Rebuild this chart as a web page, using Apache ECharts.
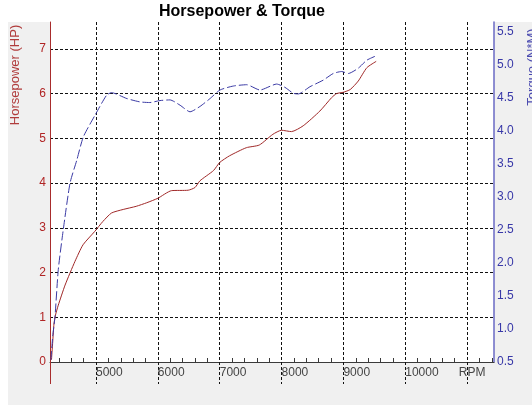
<!DOCTYPE html>
<html>
<head>
<meta charset="utf-8">
<title>Horsepower & Torque</title>
<script src="https://cdn.jsdelivr.net/npm/echarts@6/dist/echarts.min.js"></script>
<style>
  html, body { margin: 0; padding: 0; background: #fff; }
  #myChart { width: 532px; height: 405px; }
</style>
</head>
<body>
<div id="myChart"></div>
<script>
// x range of the plot (rpm)
const rpmMin = 4256
const rpmMax = 11435

// x axis ticks / labels
const rpmMajor = [5000, 6000, 7000, 8000, 9000, 10000, 11000]
const rpmLabels = [5000, 6000, 7000, 8000, 9000, 10000]
const rpmUnitAt = 11000
const rpmMinor = [4400, 4600, 4800, 5200, 5400, 5600, 5800, 6200, 6400, 6600, 6800,
  7200, 7400, 7600, 7800, 8200, 8400, 8600, 8800, 9200, 9400, 9600, 9800,
  10200, 10400, 10600, 10800, 11200, 11400]

// horsepower curve
const hpRpm = [4280, 4300, 4320, 4345, 4390, 4500, 4660, 4790, 4980, 5110, 5250, 5440,
  5650, 5820, 6000, 6220, 6490, 6600, 6680, 6900, 7000, 7160, 7430, 7640, 7860, 8000,
  8160, 8350, 8620, 8810, 8890, 9000, 9110, 9240, 9380, 9530]
const hp = [0.05, 0.45, 0.85, 1.05, 1.27, 1.72, 2.25, 2.62, 2.92, 3.14, 3.33, 3.41,
  3.48, 3.56, 3.66, 3.83, 3.84, 3.90, 4.05, 4.28, 4.46, 4.61, 4.79, 4.85, 5.09, 5.18,
  5.15, 5.28, 5.61, 5.91, 6.00, 6.03, 6.09, 6.28, 6.58, 6.72]

// torque curve
const tqRpm = [4270, 4300, 4337, 4390, 4470, 4580, 4690, 4795, 4985, 5170, 5250, 5500,
  5710, 5870, 6035, 6196, 6358, 6520, 6680, 6843, 7005, 7220, 7436, 7651, 7921, 8055,
  8190, 8270, 8460, 8675, 8836, 8972, 9080, 9240, 9376, 9510]
const torque = [0.53, 0.89, 1.19, 1.90, 2.50, 3.21, 3.56, 3.91, 4.24, 4.54, 4.58, 4.49,
  4.44, 4.43, 4.46, 4.47, 4.39, 4.29, 4.37, 4.49, 4.62, 4.68, 4.70, 4.62, 4.71, 4.66,
  4.57, 4.56, 4.67, 4.77, 4.87, 4.90, 4.87, 4.95, 5.07, 5.13]

const font = '"Liberation Sans", Arial, sans-serif'
const red = '#a82c2c'
const blue = '#3a3aa4'
const grid = { type: [3, 2], color: '#111', width: 1 }

const chart = echarts.init(document.getElementById('myChart'), null, { renderer: 'canvas' })

chart.setOption({
  animation: false,
  backgroundColor: '#fff',
  textStyle: { fontFamily: font },
  title: {
    text: 'Horsepower & Torque',
    left: 159,
    top: 4,
    padding: 0,
    textStyle: { fontFamily: font, fontSize: 16, fontWeight: 'bold', color: '#000' }
  },
  graphic: [
    // grey panel behind the plot
    { type: 'rect', z: -10, shape: { x: 8, y: 22, width: 524, height: 383 }, style: { fill: '#f0f0f0' } },
    {
      type: 'text', x: 15, y: 75, rotation: Math.PI / 2,
      style: { text: 'Horsepower (HP)', fill: '#b03c3c', font: '13px ' + font, align: 'center', verticalAlign: 'middle' }
    },
    {
      type: 'text', x: 532, y: 67, rotation: Math.PI / 2,
      style: { text: 'Torque (N*M)', fill: '#4a4ab0', font: '13px ' + font, align: 'center', verticalAlign: 'middle' }
    }
  ],
  grid: {
    left: 50, right: 38, top: 22, bottom: 43,
    show: true, backgroundColor: '#fff', borderWidth: 0
  },
  xAxis: [
    {
      type: 'value', min: rpmMin, max: rpmMax, position: 'bottom',
      axisLine: { onZero: false, lineStyle: { color: '#3a3a3a', width: 1 } },
      axisTick: { customValues: rpmMajor, length: 22, lineStyle: grid },
      axisLabel: {
        customValues: rpmLabels, align: 'left', margin: 5,
        color: '#444', fontSize: 12, fontFamily: font,
        formatter: v => String(v)
      },
      splitLine: { show: true, lineStyle: grid }
    },
    {
      // minor ticks
      type: 'value', min: rpmMin, max: rpmMax, position: 'bottom',
      axisLine: { show: false, onZero: false },
      axisTick: { customValues: rpmMinor, inside: true, length: 4, lineStyle: { color: '#3a3a3a' } },
      axisLabel: { show: false },
      splitLine: { show: false }
    },
    {
      // RPM unit label + left axis line running below the x axis
      type: 'value', min: rpmMin, max: rpmMax, position: 'bottom',
      axisLine: { show: false, onZero: false },
      axisTick: { customValues: [rpmMin], length: 22, lineStyle: { color: red, width: 1 } },
      axisLabel: {
        customValues: [rpmUnitAt], formatter: () => 'RPM', align: 'center', margin: 5,
        padding: [0, 0, 0, 10], color: '#444', fontSize: 12, fontFamily: font
      },
      splitLine: { show: false }
    }
  ],
  yAxis: [
    {
      type: 'value', min: 0, max: 7.6, interval: 1, position: 'left',
      axisLine: { show: true, onZero: false, lineStyle: { color: red, width: 1 } },
      axisTick: { show: false },
      axisLabel: {
        color: '#b02424', fontSize: 12, margin: 4, showMaxLabel: false,
        formatter: v => (Number.isInteger(v) ? v : '')
      },
      splitLine: { show: true, showMinLine: false, showMaxLine: false, lineStyle: grid }
    },
    {
      type: 'value', min: 0.5, max: 5.65, interval: 0.5, position: 'right',
      axisLine: { show: true, onZero: false, lineStyle: { color: '#6a6ac4', width: 1.5 } },
      axisTick: { show: false },
      axisLabel: {
        color: '#3838a8', fontSize: 12, margin: 3, showMaxLabel: false,
        formatter: v => (Math.round(v * 2) === v * 2 ? v.toFixed(1) : '')
      },
      splitLine: { show: false }
    }
  ],
  series: [
    {
      name: 'Horsepower',
      type: 'line',
      xAxisIndex: 0,
      yAxisIndex: 0,
      data: hpRpm.map((r, i) => [r, hp[i]]),
      showSymbol: false,
      smooth: 0.2,
      lineStyle: { color: '#a02828', width: 1 },
      z: 3
    },
    {
      name: 'Torque',
      type: 'line',
      xAxisIndex: 0,
      yAxisIndex: 1,
      data: tqRpm.map((r, i) => [r, torque[i]]),
      showSymbol: false,
      smooth: 0.2,
      lineStyle: { color: blue, width: 1, type: [9, 3] },
      z: 3
    }
  ]
})
</script>
</body>
</html>
